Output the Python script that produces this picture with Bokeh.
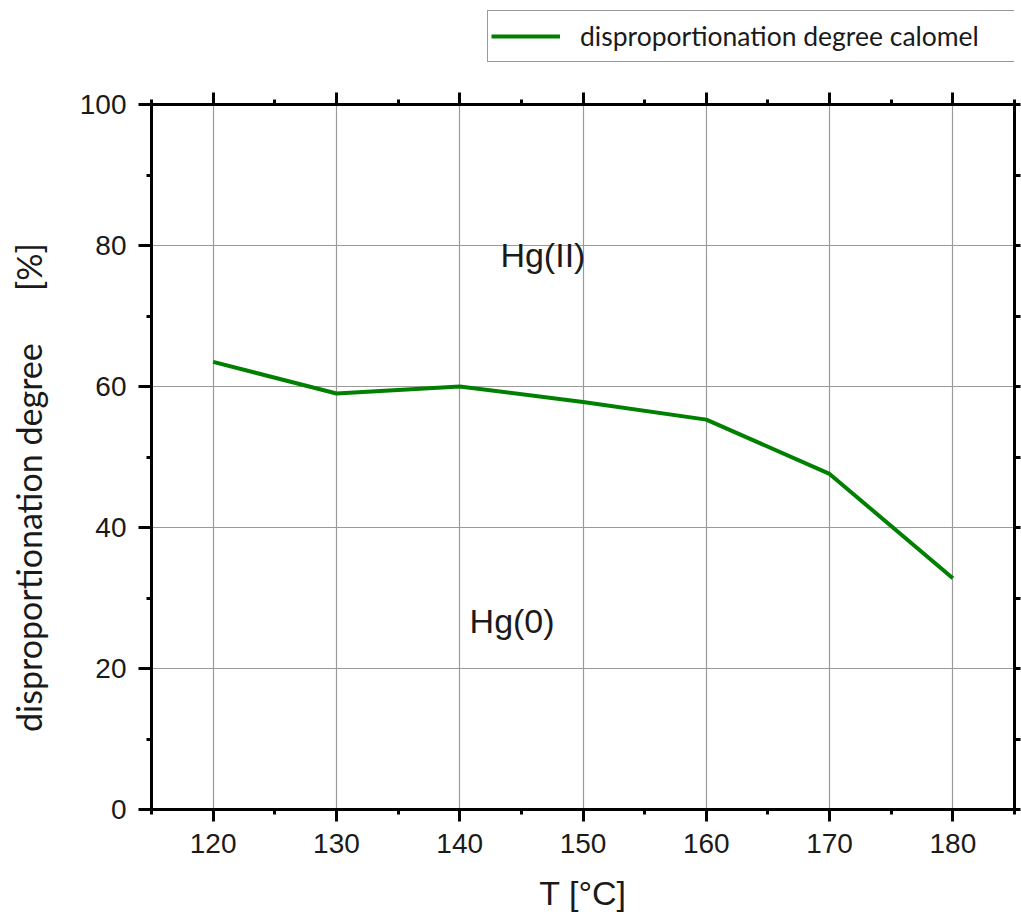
from bokeh.plotting import figure
from bokeh.models import Range1d, LinearAxis, FixedTicker, Legend, LegendItem
from bokeh.layouts import column
from bokeh.core.properties import value
from bokeh.embed import file_html
from bokeh.resources import INLINE

# ---- data ----
temperature = [120, 130, 140, 150, 160, 170, 180]
degree = [63.5, 59.0, 60.0, 57.8, 55.3, 47.6, 32.8]
series_name = "disproportionation degree calomel"

x_ticks = [120, 130, 140, 150, 160, 170, 180]
x_minor = [115, 125, 135, 145, 155, 165, 175, 185]
y_ticks = [0, 20, 40, 60, 80, 100]
y_minor = [10, 30, 50, 70, 90]

region_labels = ["Hg(II)", "Hg(0)"]
region_x = [143.3, 140.8]
region_y = [78.6, 26.7]

x_title = "T [°C]"
y_title = "disproportionation degree" + "\u00a0" * 6 + "[%]" + "\u00a0" * 7

LINE_COLOR = "#008000"
TEXT_COLOR = "#1a1a1a"

# ---- legend strip (top) ----
top = figure(width=1021, height=70, output_backend="svg", toolbar_location=None,
             x_range=Range1d(0, 1), y_range=Range1d(0, 1),
             x_axis_type=None, y_axis_type=None,
             min_border_left=0, min_border_right=0, min_border_top=0,
             min_border_bottom=0)
top.outline_line_color = None
top.background_fill_color = "white"
top.border_fill_color = "white"
top.xgrid.visible = False
top.ygrid.visible = False
# series drawn here only so the legend can show its style (outside this strip's view)
legend_src = top.line(temperature, degree, line_color=LINE_COLOR, line_width=4)

legend = Legend(items=[LegendItem(label=series_name, renderers=[legend_src])],
                location=(336, 8))
legend.border_line_color = "#333333"
legend.border_line_width = 1.5
legend.background_fill_color = "white"
legend.background_fill_alpha = 1.0
legend.label_text_font = "Lato"
legend.label_text_font_size = "26.5px"
legend.label_text_color = TEXT_COLOR
legend.glyph_width = 69
legend.glyph_height = 44
legend.label_standoff = 20
legend.label_width = 470
legend.padding = 3
legend.margin = 0
legend.spacing = 0
top.add_layout(legend, "center")

# ---- main plot ----
p = figure(width=1021, height=845, output_backend="svg", toolbar_location=None,
           x_range=Range1d(115, 185), y_range=Range1d(0, 100),
           min_border_left=151, min_border_right=7, min_border_top=34,
           min_border_bottom=106)
p.background_fill_color = "white"
p.border_fill_color = "white"
p.outline_line_color = None


def style_axis(ax, labels=True, tick_out=12, minor_out=5):
    ax.axis_line_width = 3
    ax.axis_line_color = "black"
    ax.major_tick_line_width = 3
    ax.minor_tick_line_width = 3
    ax.major_tick_line_color = "black"
    ax.minor_tick_line_color = "black"
    ax.major_tick_in = 0
    ax.minor_tick_in = 0
    ax.major_tick_out = tick_out
    ax.minor_tick_out = minor_out
    if labels:
        ax.major_label_text_font = "Liberation Sans"
        ax.major_label_text_font_size = "28px"
        ax.major_label_text_color = TEXT_COLOR
        ax.major_label_standoff = 8
    else:
        ax.major_label_text_font_size = "0px"
        ax.major_label_standoff = 0


xb = p.xaxis[0]
xb.ticker = FixedTicker(ticks=x_ticks, minor_ticks=x_minor)
style_axis(xb)
xb.major_label_standoff = 12
xb.axis_label = x_title
xb.axis_label_text_font = "Liberation Sans"
xb.axis_label_text_font_size = "34px"
xb.axis_label_text_font_style = "normal"
xb.axis_label_text_color = TEXT_COLOR
xb.axis_label_standoff = 18

yl = p.yaxis[0]
yl.ticker = FixedTicker(ticks=y_ticks, minor_ticks=y_minor)
style_axis(yl, tick_out=13)
yl.major_label_standoff = 12
yl.axis_label = y_title
yl.axis_label_text_font = "Lato"
yl.axis_label_text_font_size = "34px"
yl.axis_label_text_font_style = "normal"
yl.axis_label_text_color = TEXT_COLOR
yl.axis_label_standoff = 28

xt = LinearAxis(ticker=FixedTicker(ticks=x_ticks, minor_ticks=x_minor))
style_axis(xt, labels=False)
p.add_layout(xt, "above")

yr = LinearAxis(ticker=FixedTicker(ticks=y_ticks, minor_ticks=y_minor))
style_axis(yr, labels=False, tick_out=6, minor_out=6)
p.add_layout(yr, "right")

p.xgrid.ticker = FixedTicker(ticks=x_ticks)
p.ygrid.ticker = FixedTicker(ticks=y_ticks)
for g in (p.xgrid, p.ygrid):
    g.grid_line_color = "#9a9a9a"
    g.grid_line_width = 1.2

p.line(temperature, degree, line_color=LINE_COLOR, line_width=4)

p.text(x=region_x, y=region_y, text=region_labels,
       text_font=value("Liberation Sans"), text_font_size="34px",
       text_color=TEXT_COLOR, text_align="left", text_baseline="alphabetic")

layout = column(top, p, spacing=0)
open("out.html", "w").write(file_html(layout, INLINE))
